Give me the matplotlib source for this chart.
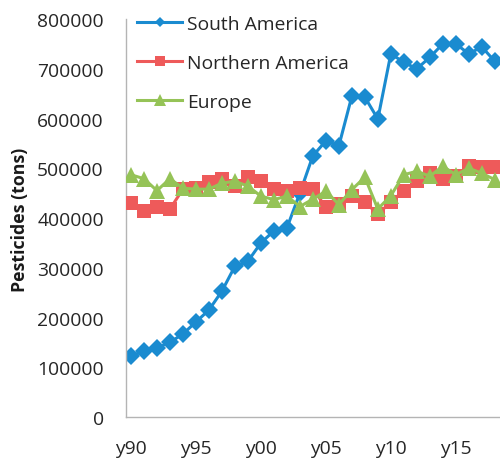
import numpy as np
import matplotlib.pyplot as plt
from matplotlib.lines import Line2D

# dados (1990-2018)
anos = np.arange(1990, 2019)
south_america = [122000, 133000, 139000, 150000, 167000, 191000, 215000, 253000,
                 303000, 313000, 350000, 374000, 380000, 450000, 525000, 555000,
                 545000, 645000, 643000, 599000, 730000, 713000, 700000, 723000,
                 750000, 750000, 730000, 744000, 715000]
northern_america = [430000, 415000, 422000, 418000, 458000, 460000, 472000, 478000,
                    465000, 482000, 475000, 458000, 455000, 460000, 458000, 422000,
                    428000, 445000, 432000, 408000, 432000, 455000, 475000, 490000,
                    478000, 485000, 504000, 502000, 502000]
europe = [487000, 479000, 455000, 479000, 460000, 458000, 458000, 470000,
          474000, 464000, 444000, 437000, 444000, 423000, 438000, 454000,
          427000, 457000, 482000, 418000, 445000, 487000, 494000, 484000,
          504000, 487000, 500000, 490000, 477000]
series = ["South America", "Northern America", "Europe"]
cores = ["#1a8bd0", "#ee5a5a", "#95c357"]
tick_labels = ["y90", "y95", "y00", "y05", "y10", "y15"]

plt.rcParams["font.family"] = ["Open Sans", "DejaVu Sans"]

fig = plt.figure(figsize=(5, 4.6), dpi=100)
ax = fig.add_axes([0.252, 0.0913, 0.748, 0.8652])

x = anos - 1990
ax.plot(x, south_america, color=cores[0], lw=2.2, marker="D", ms=9, mew=0, zorder=2)
ax.plot(x, northern_america, color=cores[1], lw=2.2, marker="s", ms=10.5, mew=0, zorder=3)
ax.plot(x, europe, color=cores[2], lw=2.2, marker="^", ms=11.5, mew=0, zorder=4)

ax.set_xlim(-0.38, 28.4)
ax.set_ylim(0, 800000)
ax.set_yticks(np.arange(0, 800001, 100000))
ax.set_yticklabels([f"{v}" for v in range(0, 800001, 100000)])
ax.set_xticks([0, 5, 10, 15, 20, 25])
ax.set_xticklabels(tick_labels)

ax.tick_params(axis="y", length=0, pad=16, labelsize=13.9, labelcolor="#262626")
ax.tick_params(axis="x", length=0, pad=16, labelsize=13.9, labelcolor="#262626")
for lado in ["top", "right"]:
    ax.spines[lado].set_visible(False)
for lado in ["left", "bottom"]:
    ax.spines[lado].set_color("#b4b4b4")
    ax.spines[lado].set_linewidth(1.0)

fig.text(0.04, 0.523, "Pesticides (tons)", rotation=90, ha="center", va="center",
         fontsize=12.8, fontweight="bold", color="#1a1a1a")

handles = [
    Line2D([], [], color=cores[0], lw=2.2, marker="D", ms=5.5, mew=0),
    Line2D([], [], color=cores[1], lw=2.2, marker="s", ms=7.5, mew=0),
    Line2D([], [], color=cores[2], lw=2.2, marker="^", ms=8, mew=0),
]
fig.legend(handles, series, loc="upper left", bbox_to_anchor=(0.274, 0.966),
           frameon=False, fontsize=13.9, handlelength=2.35, handletextpad=0.25,
           labelspacing=1.1, borderpad=0, borderaxespad=0, labelcolor="#262626")

plt.savefig("out.png", dpi=100)
plt.close(fig)
